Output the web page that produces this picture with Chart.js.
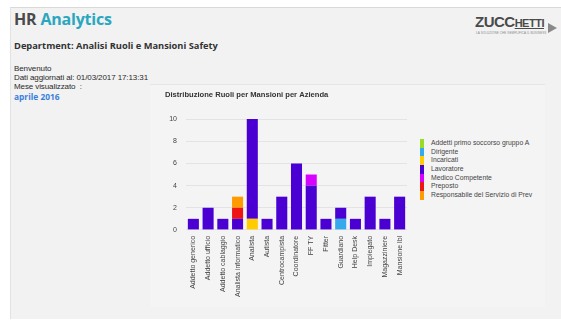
<!DOCTYPE html>
<html>
<head>
<meta charset="utf-8">
<script src="https://cdn.jsdelivr.net/npm/chart.js@4.4.1/dist/chart.umd.min.js"></script>
<style>
  html, body { margin: 0; padding: 0; background: #ffffff; }
  body { width: 561px; height: 321px; position: relative; overflow: hidden; font-family: "Open Sans", "Liberation Sans", sans-serif; }
  #frame { position: absolute; left: 10px; top: 7px; width: 551px; height: 311px; background: #f2f2f2; border-top: 1px solid #d9d9d9; border-left: 1px solid #e2e2e2; }
  .t { position: absolute; white-space: nowrap; }
  #hr { left: 14px; top: 8px; font-size: 16px; font-weight: 700; color: #4a4a4a; letter-spacing: -0.2px; }
  #hr span { color: #2aa7bf; }
  #dep { left: 14px; top: 39px; font-size: 9.3px; font-weight: 700; color: #333; }
  #info { left: 14px; top: 64px; font-size: 8px; line-height: 9px; color: #2a2a2a; font-family: "Liberation Sans", sans-serif; letter-spacing: -0.1px; }
  #mese { left: 14px; top: 91px; font-size: 8.4px; font-weight: 700; color: #3b7fdc; }
  #panel { position: absolute; left: 150px; top: 84px; width: 395px; height: 222px; background: #f4f4f4; border-top: 1px solid #e6e6e6; }
  #logo { position: absolute; left: 475px; top: 13px; width: 84px; height: 26px; }
  #logo .z { position: absolute; left: 0; top: 0; font-family: "Liberation Sans", sans-serif; font-weight: 700; font-size: 15px; color: #4a4a4a; letter-spacing: -0.5px; }
  #logo .z small { font-size: 11px; text-decoration: underline; }
  #logo .tag { position: absolute; left: 1px; top: 18px; font-size: 3px; color: #888; font-family: "Liberation Sans", sans-serif; letter-spacing: 0.1px; }
  #logo .arr { position: absolute; left: 73px; top: 10px; width: 0; height: 0; border-top: 5px solid transparent; border-bottom: 5px solid transparent; border-left: 9px solid #8a8a8a; }
  #c { position: absolute; left: 160px; top: 84px; }
  #legend { position: absolute; left: 420px; top: 139px; font-family: "Liberation Sans", sans-serif; font-size: 6.8px; color: #444; }
  #legend .it { height: 8.7px; line-height: 8.7px; white-space: nowrap; }
  #legend .sw { display: inline-block; width: 4px; height: 8.7px; vertical-align: top; margin-right: 7px; }
</style>
</head>
<body>
<div id="frame"></div>
<div class="t" id="hr">HR <span>Analytics</span></div>
<div id="logo"><div class="z">ZUCC<small>HETTI</small></div><div class="tag">LA SOLUZIONE CHE SEMPLIFICA IL BUSINESS</div><div class="arr"></div></div>
<div class="t" id="dep">Department: Analisi Ruoli e Mansioni Safety</div>
<div class="t" id="info">Benvenuto<br>Dati aggiornati al: 01/03/2017 17:13:31<br>Mese visualizzato &nbsp;:</div>
<div class="t" id="mese">aprile 2016</div>
<div id="panel"></div>
<canvas id="c" width="260" height="219"></canvas>
<div id="legend"></div>
<script>
const categories = ["Addetto generico","Addetto ufficio","Addetto cablaggio","Analista informatico","Analista","Autista","Centrocampista","Coordinatore","FF TY","Fitter","Guardiano","Help Desk","Impiegato","Magazziniere","Mansione lbl"];
const seriesNames = ["Addetti primo soccorso gruppo A","Dirigente","Incaricati","Lavoratore","Medico Competente","Preposto","Responsabile del Servizio di Prev"];
const addetti      = [0,0,0,0,0,0,0,0,0,0,0,0,0,0,0];
const dirigente    = [0,0,0,0,0,0,0,0,0,0,1,0,0,0,0];
const incaricati   = [0,0,0,0,1,0,0,0,0,0,0,0,0,0,0];
const lavoratore   = [1,2,1,1,9,1,3,6,4,1,1,1,3,1,3];
const medico       = [0,0,0,0,0,0,0,0,1,0,0,0,0,0,0];
const preposto     = [0,0,0,1,0,0,0,0,0,0,0,0,0,0,0];
const responsabile = [0,0,0,1,0,0,0,0,0,0,0,0,0,0,0];
const yTicks = [0,2,4,6,8,10];
const colors = ["#9bdc22","#34a9ec","#ffcc00","#4a00d2","#d800ff","#ee1515","#ff9a00"];

const seriesData = [addetti, dirigente, incaricati, lavoratore, medico, preposto, responsabile];
const datasets = seriesNames.map((n, i) => ({
  label: n, data: seriesData[i], backgroundColor: colors[i], borderWidth: 0,
  categoryPercentage: 0.75, barPercentage: 1
}));

const htmlLegend = {
  id: 'htmlLegend',
  afterUpdate(chart) {
    const box = document.getElementById('legend');
    box.innerHTML = '';
    const items = Chart.defaults.plugins.legend.labels.generateLabels(chart);
    items.forEach(it => {
      const row = document.createElement('div'); row.className = 'it';
      const sw = document.createElement('span'); sw.className = 'sw'; sw.style.background = it.fillStyle;
      row.appendChild(sw); row.appendChild(document.createTextNode(it.text));
      box.appendChild(row);
    });
  }
};

const tickFont = { family: "Liberation Sans", size: 7 };
new Chart(document.getElementById('c'), {
  type: 'bar',
  data: { labels: categories, datasets },
  plugins: [htmlLegend],
  options: {
    responsive: false, animation: false, devicePixelRatio: 1,
    layout: { padding: { left: 5, right: 13, top: 0, bottom: 0 } },
    plugins: {
      title: { display: true, text: "Distribuzione Ruoli per Mansioni per Azienda", align: 'start',
        color: '#333', font: { family: "Liberation Sans", size: 7.6, weight: 'bold' }, padding: { top: 6, bottom: 20 } },
      legend: { display: false },
      tooltip: { enabled: false }
    },
    scales: {
      x: { stacked: true, grid: { display: false, drawTicks: false }, border: { display: false },
        ticks: { autoSkip: false, maxRotation: 90, minRotation: 90, padding: 6, color: '#444', font: tickFont } },
      y: { stacked: true, min: 0, max: 10, afterBuildTicks: s => { s.ticks = yTicks.map(v => ({ value: v })); },
        grid: { color: '#e3e3e3', drawTicks: false }, border: { display: false },
        ticks: { padding: 9, color: '#444', font: tickFont },
        afterFit: s => { s.width = 21; } }
    }
  }
});
</script>
</body>
</html>
